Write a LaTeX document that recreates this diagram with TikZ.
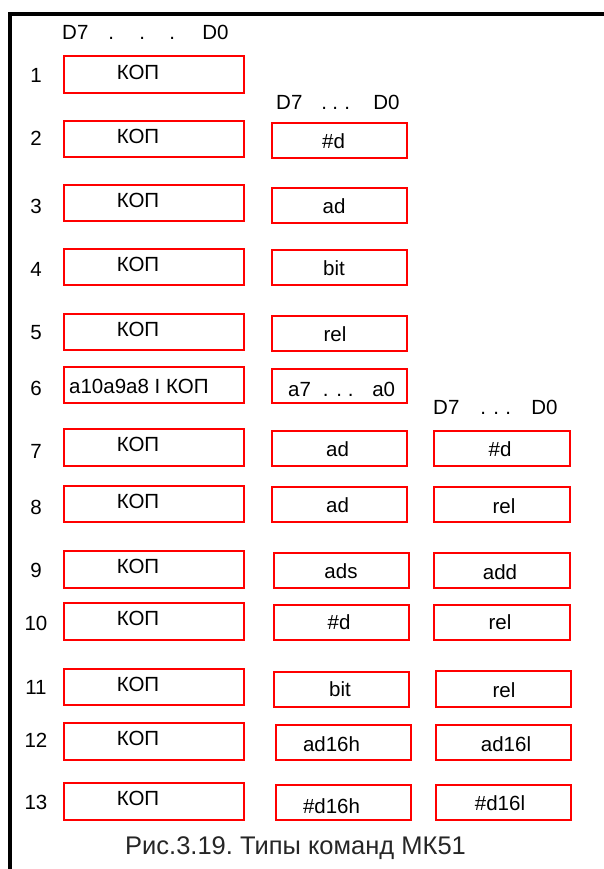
\documentclass[tikz,border=0pt]{standalone}
\usepackage{fontspec}
\setmainfont{Liberation Sans}
\frenchspacing
\begin{document}
\begin{tikzpicture}[x=1pt,y=-1pt,
  cell/.style={draw=red, line width=1.9pt, rectangle, inner sep=0pt},
  txt/.style={inner sep=0pt, font=\fontsize{20.5}{24}\selectfont, text=black},
  num/.style={txt},
  caption/.style={inner sep=0pt, font=\fontsize{25.5}{30}\selectfont, text=black!85}]
\useasboundingbox (0,0) rectangle (604,869);

% frame along the top and left edges
\coordinate (fr) at (604,14);
\coordinate (fc) at (10,14);
\coordinate (fb) at (10,869);
\draw[line width=4pt] (fr) -- (fc) -- (fb);

% \mkcell{name}{left}{top}{right}{bottom}
\newcommand\mkcell[5]{\node[cell, minimum width={#4-#2-2}, minimum height={#5-#3-2}] (#1) at ({(#2+#4)/2},{(#3+#5)/2}) {};}

% bit headers
\node[txt, anchor=west] (h1) at (62,32.5) {D7\hspace{20pt}.\hspace{25.3pt}.\hspace{24.3pt}.\hspace{27.2pt}D0};
\node[txt, anchor=west] (h2) at (276,102) {D7\hspace{19pt}.\hspace{5.3pt}.\hspace{6.3pt}.\hspace{23.2pt}D0};
\node[txt, anchor=west] (h3) at (433,407) {D7\hspace{21pt}.\hspace{7.3pt}.\hspace{6.3pt}.\hspace{20.2pt}D0};

% first byte column
\mkcell{a1}{63}{55}{245}{94}
\mkcell{a2}{63}{120}{245}{158}
\mkcell{a3}{63}{184}{245}{222}
\mkcell{a4}{63}{248}{245}{286}
\mkcell{a5}{63}{313}{245}{351}
\mkcell{a6}{63}{366}{245}{404}
\mkcell{a7}{63}{428}{245}{467}
\mkcell{a8}{63}{485}{245}{523}
\mkcell{a9}{63}{550}{245}{589}
\mkcell{a10}{63}{602}{245}{641}
\mkcell{a11}{63}{668}{245}{706}
\mkcell{a12}{63}{722}{245}{761}
\mkcell{a13}{63}{782}{245}{821}

\foreach \r/\y in {1/72,2/136,3/200,4/264,5/329,7/444,8/501,9/566,10/618,11/684,12/738.5,13/798.5}
  \node[txt] (ta\r) at (138,\y) {КОП};
\node[txt, anchor=west] (ta6) at (69,386) {a10a9a8 I КОП};

% second byte column
\mkcell{b2}{271}{122}{408}{159}
\mkcell{b3}{271}{187}{408}{224}
\mkcell{b4}{271}{249}{408}{286}
\mkcell{b5}{271}{315}{408}{352}
\mkcell{b6}{271}{368}{408}{404}
\mkcell{b7}{271}{430}{408}{467}
\mkcell{b8}{271}{486}{408}{523}
\mkcell{b9}{273}{552}{410}{589}
\mkcell{b10}{273}{604}{410}{641}
\mkcell{b11}{273}{671}{410}{708}
\mkcell{b12}{275}{724}{412}{761}
\mkcell{b13}{275}{784}{412}{821}

\node[txt] (tb2) at (333.5,141) {\#d};
\node[txt] (tb3) at (334,206) {ad};
\node[txt] (tb4) at (334,268) {bit};
\node[txt] (tb5) at (335,334) {rel};
\node[txt, anchor=west] (tb6) at (288,389) {a7\hspace{11.9pt}.\hspace{7.8pt}.\hspace{5.8pt}.\hspace{18.7pt}a0};
\node[txt] (tb7) at (337.5,449) {ad};
\node[txt] (tb8) at (337.5,505) {ad};
\node[txt] (tb9) at (341,571) {ads};
\node[txt] (tb10) at (339,622) {\#d};
\node[txt] (tb11) at (340,689) {bit};
\node[txt] (tb12) at (331.5,744) {ad16h};
\node[txt] (tb13) at (331.5,806) {\#d16h};

% third byte column
\mkcell{c7}{433}{430}{571}{467}
\mkcell{c8}{433}{486}{571}{523}
\mkcell{c9}{433}{552}{571}{589}
\mkcell{c10}{433}{604}{571}{641}
\mkcell{c11}{435}{670}{572}{708}
\mkcell{c12}{435}{724}{572}{761}
\mkcell{c13}{435}{784}{572}{821}

\node[txt] (tc7) at (500,449) {\#d};
\node[txt] (tc8) at (504,506) {rel};
\node[txt] (tc9) at (500,572) {add};
\node[txt] (tc10) at (500,622) {rel};
\node[txt] (tc11) at (504,690) {rel};
\node[txt] (tc12) at (506,744) {ad16l};
\node[txt] (tc13) at (500,803) {\#d16l};

% row numbers
\foreach \r/\y in {1/75,2/138,3/206,4/269,5/333,6/388,7/451,8/507,9/570,10/623,11/687,12/740,13/802}
  \node[num] (n\r) at (36,\y) {\r};

% caption
\node[caption] (cap) at (295.5,848) {Рис.3.19. Типы команд МК51};
\end{tikzpicture}
\end{document}
